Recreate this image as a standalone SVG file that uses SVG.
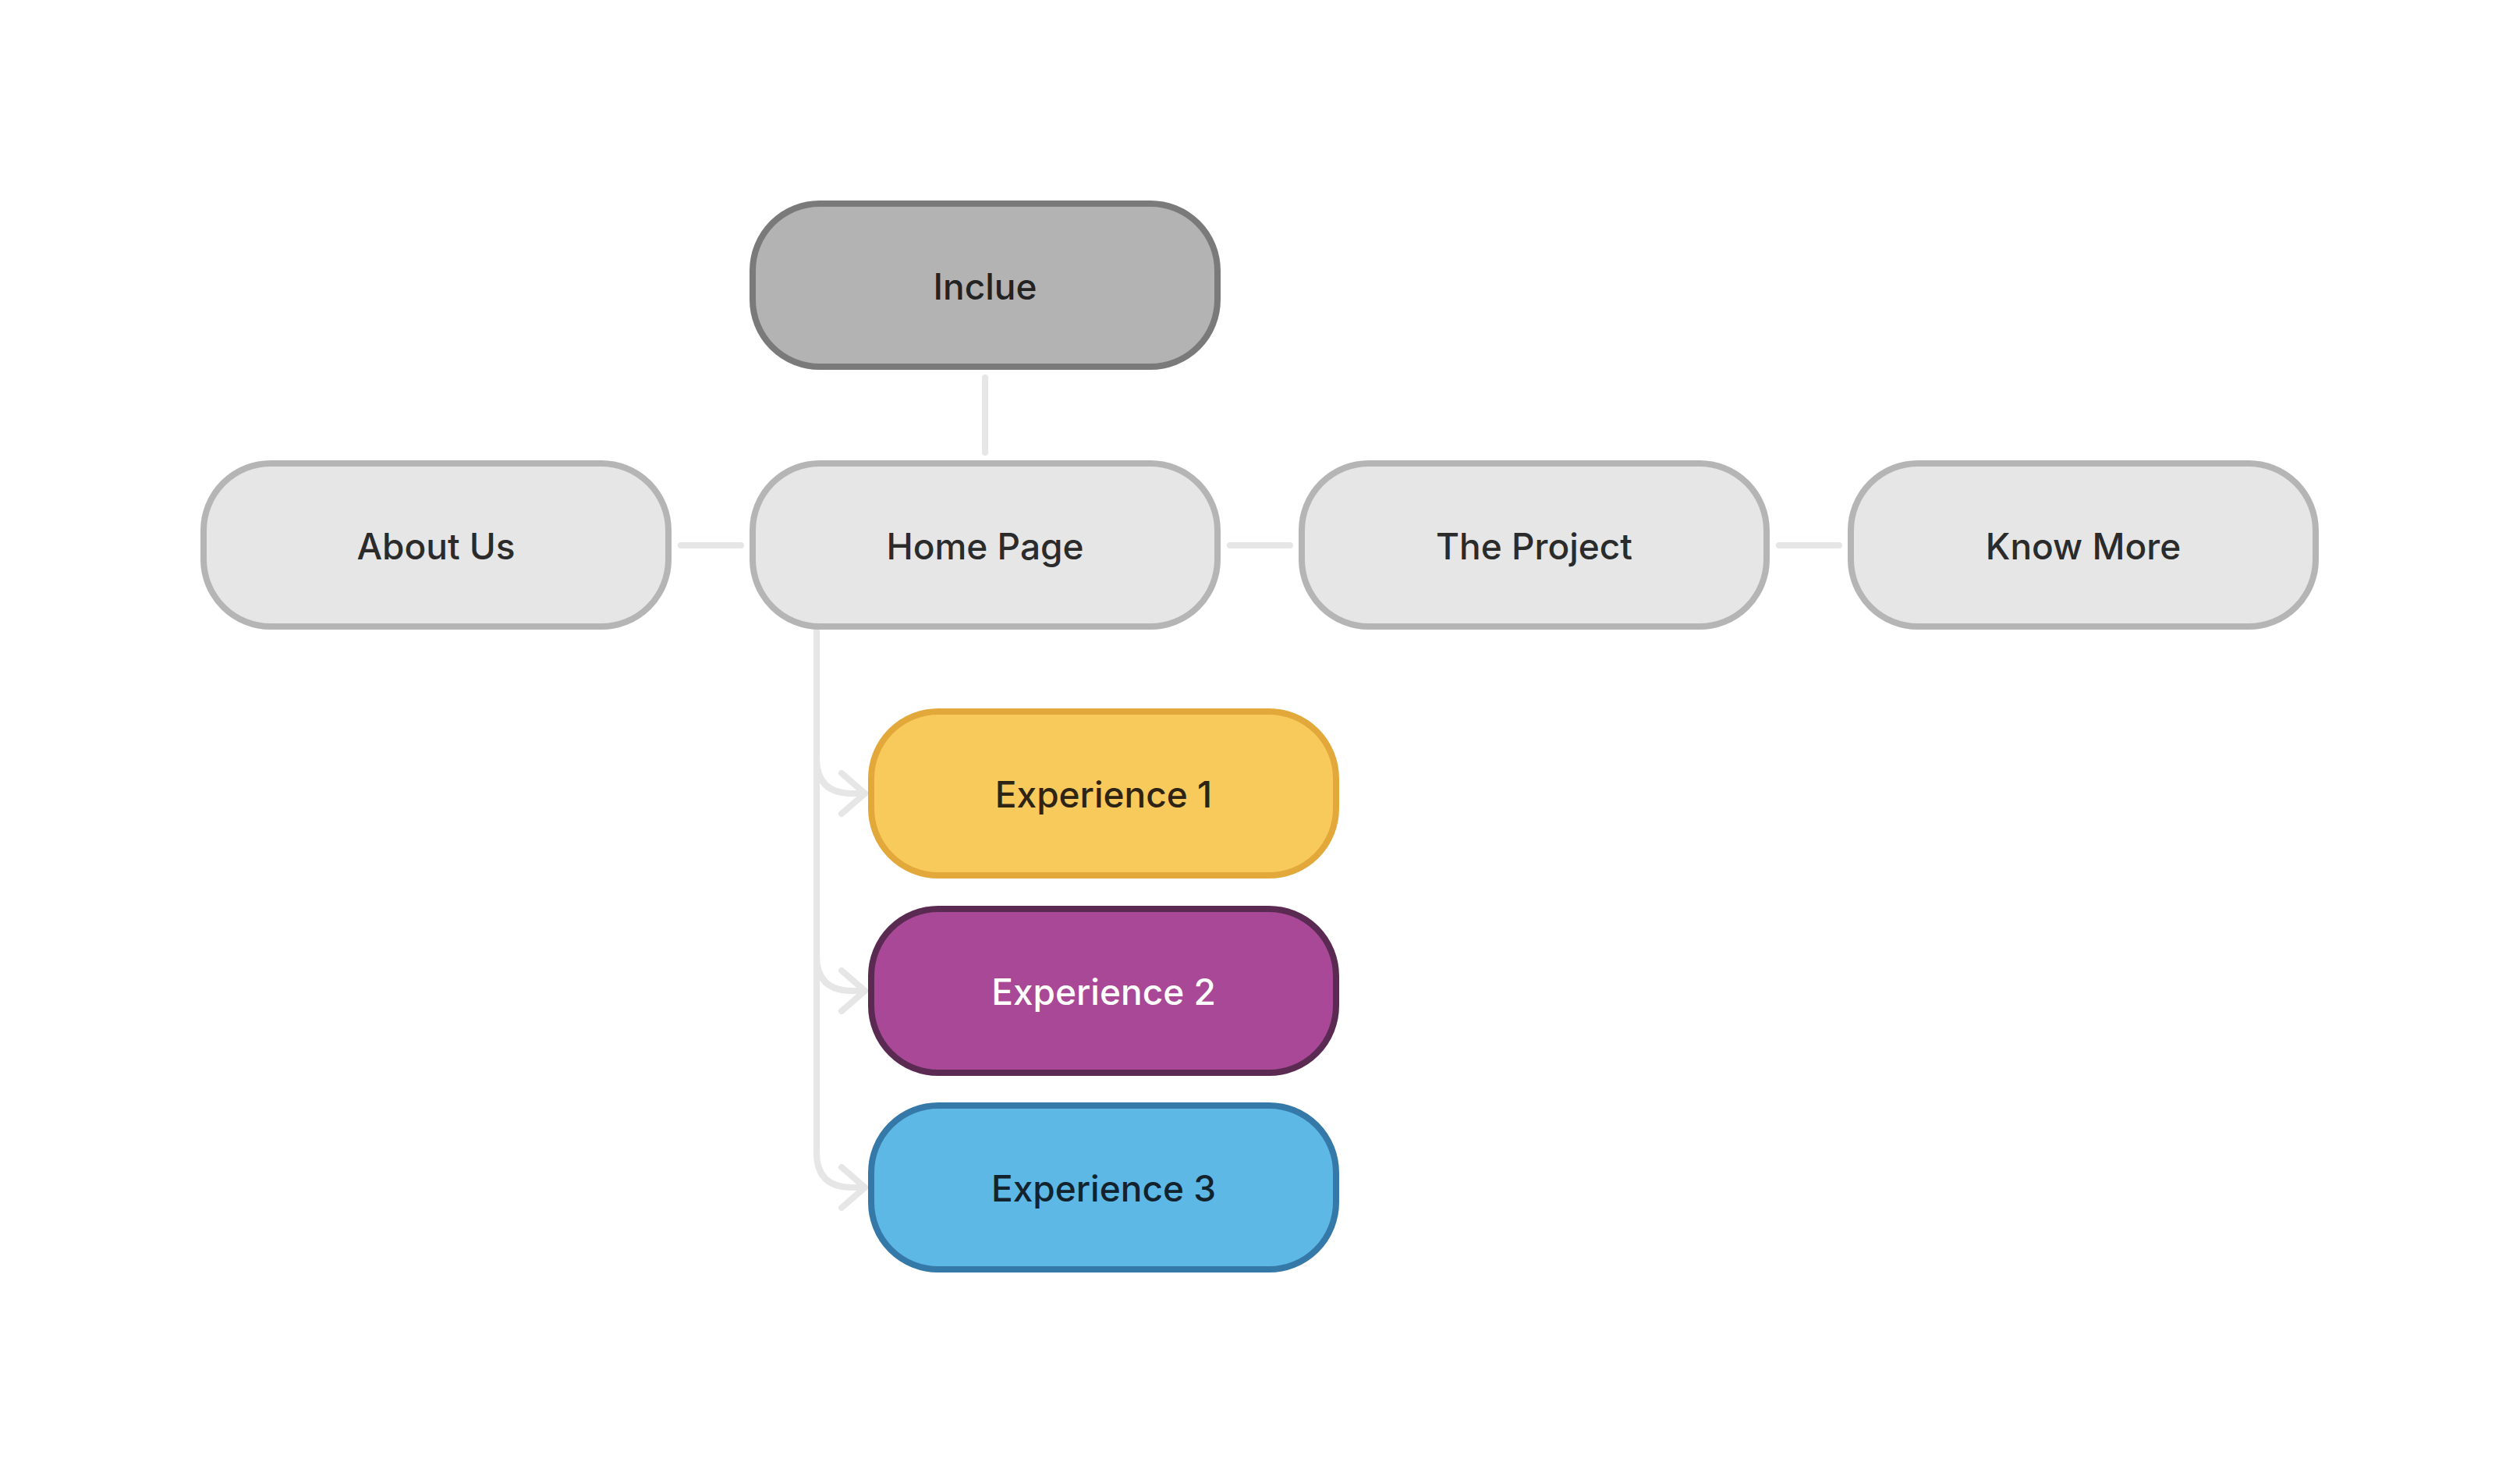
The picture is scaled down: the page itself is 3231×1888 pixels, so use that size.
<svg xmlns="http://www.w3.org/2000/svg" width="3231" height="1888" viewBox="0 0 3231 1888">
  <defs>
    <style>
      .node rect { stroke-width: 8; }
      .node text { font-family: Inter, "Liberation Sans", sans-serif; font-size: 46px; font-weight: 500; text-anchor: middle; }
      .gray rect { fill: #e6e6e6; stroke: #b5b5b5; }
      .gray text { fill: #2b2b2b; }
      .dark rect { fill: #b3b3b3; stroke: #7a7a7a; }
      .dark text { fill: #232323; }
      .exp1 rect { fill: #f8ca5c; stroke: #e3a83a; }
      .exp1 text { fill: #2e2413; }
      .exp2 rect { fill: #a84896; stroke: #5a2a52; }
      .exp2 text { fill: #ffffff; }
      .exp3 rect { fill: #5eb8e6; stroke: #3579a8; }
      .exp3 text { fill: #13232e; }
      .link { fill: none; stroke: #e6e6e6; stroke-width: 8; stroke-linecap: round; stroke-linejoin: round; }
    </style>
    <marker id="chevron" markerUnits="userSpaceOnUse" viewBox="-36 -32 40 64" refX="0" refY="0" markerWidth="40" markerHeight="64" orient="auto" overflow="visible">
      <path d="M-30,-26 L0,0 L-30,26" fill="none" stroke="#e6e6e6" stroke-width="8" stroke-linecap="round" stroke-linejoin="round"/>
    </marker>
  </defs>

  <rect width="3231" height="1888" fill="#ffffff"/>

  <!-- connectors -->
  <g id="connectors">
    <path class="link" d="M1263 484 V580"/>
    <path class="link" d="M873 699 H950"/>
    <path class="link" d="M1577 699 H1654"/>
    <path class="link" d="M2281 699 H2358"/>
    <path class="link" d="M1047 810 V972 Q1047 1017 1092 1017 H1109" marker-end="url(#chevron)"/>
    <path class="link" d="M1047 810 V1225 Q1047 1270 1092 1270 H1109" marker-end="url(#chevron)"/>
    <path class="link" d="M1047 810 V1477 Q1047 1522 1092 1522 H1109" marker-end="url(#chevron)"/>
  </g>

  <!-- nodes -->
  <g id="node-inclue" class="node dark">
    <rect x="965" y="261" width="596" height="209" rx="86" ry="86"/>
    <text x="1263" y="384">Inclue</text>
  </g>
  <g id="node-about-us" class="node gray">
    <rect x="261" y="594" width="596" height="209" rx="86" ry="86"/>
    <text x="559" y="717">About Us</text>
  </g>
  <g id="node-home-page" class="node gray">
    <rect x="965" y="594" width="596" height="209" rx="86" ry="86"/>
    <text x="1263" y="717">Home Page</text>
  </g>
  <g id="node-the-project" class="node gray">
    <rect x="1669" y="594" width="596" height="209" rx="86" ry="86"/>
    <text x="1967" y="717">The Project</text>
  </g>
  <g id="node-know-more" class="node gray">
    <rect x="2373" y="594" width="596" height="209" rx="86" ry="86"/>
    <text x="2671" y="717">Know More</text>
  </g>
  <g id="node-experience-1" class="node exp1">
    <rect x="1117" y="912" width="596" height="210" rx="86" ry="86"/>
    <text x="1415" y="1035">Experience 1</text>
  </g>
  <g id="node-experience-2" class="node exp2">
    <rect x="1117" y="1165" width="596" height="210" rx="86" ry="86"/>
    <text x="1415" y="1288">Experience 2</text>
  </g>
  <g id="node-experience-3" class="node exp3">
    <rect x="1117" y="1417" width="596" height="210" rx="86" ry="86"/>
    <text x="1415" y="1540">Experience 3</text>
  </g>
</svg>
